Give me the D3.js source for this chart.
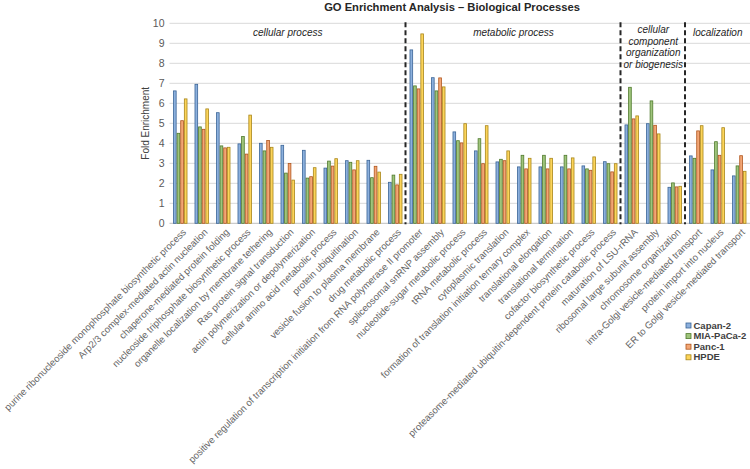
<!DOCTYPE html>
<html><head><meta charset="utf-8">
<script src="https://cdn.jsdelivr.net/npm/d3@7/dist/d3.min.js"></script>
<style>body{margin:0;background:#fff}svg{display:block}</style>
</head><body><svg id="c" width="750" height="469"></svg>
<script>
const categories = [
"purine ribonucleoside monophosphate biosynthetic process",
"Arp2/3 complex-mediated actin nucleation",
"chaperone-mediated protein folding",
"nucleoside triphosphate biosynthetic process",
"organelle localization by membrane tethering",
"Ras protein signal transduction",
"actin polymerization or depolymerization",
"cellular amino acid metabolic process",
"protein ubiquitination",
"vesicle fusion to plasma membrane",
"drug metabolic process",
"positive regulation of transcription initiation from RNA polymerase II promoter",
"spliceosomal snRNP assembly",
"nucleotide-sugar metabolic process",
"tRNA metabolic process",
"cytoplasmic translation",
"formation of translation initiation ternary complex",
"translational elongation",
"translational termination",
"cofactor biosynthetic process",
"proteasome-mediated ubiquitin-dependent protein catabolic process",
"maturation of LSU-rRNA",
"ribosomal large subunit assembly",
"chromosome organization",
"intra-Golgi vesicle-mediated transport",
"protein import into nucleus",
"ER to Golgi vesicle-mediated transport"
];
const seriesNames = ["Capan-2","MIA-PaCa-2","Panc-1","HPDE"];
const capan2 = [6.62,6.95,5.53,3.97,4.0,3.9,3.65,2.76,3.13,3.15,2.05,8.67,7.28,4.57,3.62,3.07,2.82,2.82,2.82,2.87,3.08,4.92,4.98,1.8,3.37,2.67,2.37];
const miaPaCa2 = [4.5,4.82,3.87,4.34,3.62,2.51,2.26,3.11,3.05,2.28,2.41,6.87,6.62,4.13,4.23,3.2,3.4,3.4,3.4,2.72,2.98,6.8,6.12,2.02,3.25,4.08,2.87];
const panc1 = [5.13,4.7,3.77,3.46,4.14,2.99,2.33,2.86,2.67,2.85,1.92,6.72,7.27,4.02,2.98,3.13,2.72,2.72,2.72,2.65,2.57,5.22,4.9,1.82,4.62,3.4,3.38];
const hpde = [6.22,5.72,3.8,5.41,3.8,2.16,2.78,3.23,3.13,2.56,2.45,9.47,6.82,4.98,4.88,3.62,3.25,3.25,3.27,3.32,2.98,5.37,4.47,1.85,4.88,4.78,2.6];
const yTicks = [0,1,2,3,4,5,6,7,8,9,10];
const sectionNames = [["cellular process"],["metabolic process"],["cellular","component","organization","or biogenesis"],["localization"]];
const sectionBreaks = [11,21,24];
const sectionStarts = [0,11,21,24];
const sectionEnds = [11,21,24,27];

const fills = ["#8cb0dd","#9fc47c","#f2a675","#fcd45a"];
const strokes = ["#3b6597","#4f7a2c","#b0551c","#a8861a"];

const series = [capan2, miaPaCa2, panc1, hpde];
const svg = d3.select("#c");
const L = 169.5, R = 750, T = 23.3, B = 223.3;
const FF = "Liberation Sans, Arial, sans-serif";

const x0 = d3.scaleBand().domain(categories).range([L,R]).paddingInner(0.32).paddingOuter(0.16);
const x1 = d3.scaleBand().domain(seriesNames).range([0,x0.bandwidth()]).padding(0.04);
const y = d3.scaleLinear().domain([0,10]).range([B,T]);

svg.append("g").selectAll("line").data(yTicks).join("line")
  .attr("x1",L).attr("x2",R).attr("y1",d=>y(d)).attr("y2",d=>y(d))
  .attr("stroke",d=>d===0?"#bfbfbf":"#d9d9d9").attr("stroke-width",1);

const yAxis = d3.axisLeft(y).tickValues(yTicks).tickSize(0).tickPadding(0);
const ya = svg.append("g").attr("transform",`translate(${L-5},0)`).call(yAxis);
ya.select(".domain").remove();
ya.selectAll("text").attr("font-family",FF).attr("font-size",10.5).attr("fill","#595959");

svg.append("text").attr("transform",`translate(149,${(T+B)/2}) rotate(-90)`)
  .attr("text-anchor","middle").attr("font-family",FF)
  .attr("font-size",10).attr("fill","#404040").text("Fold Enrichment");

const step = x0.step();
const rows = categories.map((c,i)=>({c, vals: series.map((s,j)=>({k:seriesNames[j], v:s[i], j}))}));
const gg = svg.append("g").selectAll("g").data(rows).join("g").attr("transform",d=>`translate(${x0(d.c)},0)`);
gg.selectAll("rect").data(d=>d.vals).join("rect")
  .attr("x",d=>x1(d.k)+0.4).attr("width",x1.bandwidth()-0.8)
  .attr("y",d=>y(d.v)).attr("height",d=>y(0)-y(d.v))
  .attr("fill",d=>fills[d.j]).attr("stroke",d=>strokes[d.j]).attr("stroke-width",0.8);

svg.append("g").selectAll("line").data(sectionBreaks).join("line")
  .attr("x1",d=>x0(categories[d])-step*x0.paddingInner()/2 - 0.5)
  .attr("x2",d=>x0(categories[d])-step*x0.paddingInner()/2 - 0.5)
  .attr("y1",T-1).attr("y2",B+1)
  .attr("stroke","#262626").attr("stroke-width",2).attr("stroke-dasharray","5,3");

sectionNames.forEach((lines,i)=>{
  const a = x0(categories[sectionStarts[i]]) - step*0.16;
  const b = x0(categories[sectionEnds[i]-1]) + x0.bandwidth() + step*0.16;
  const cx = (a+b)/2;
  const t = svg.append("text").attr("text-anchor","middle")
    .attr("font-family",FF).attr("font-style","italic")
    .attr("font-size",10).attr("fill","#262626");
  lines.forEach((ln,k)=>{
    t.append("tspan").attr("x",cx).attr("y",36 + k*11.5 - (lines.length>1?3:0)).text(ln);
  });
});

svg.append("g").selectAll("text").data(categories).join("text")
  .attr("transform",d=>`translate(${x0(d)+x0.bandwidth()/2+6.5},${B+9.5}) rotate(-45)`)
  .attr("text-anchor","end").attr("font-family",FF)
  .attr("font-size",9.6).attr("fill","#666666").text(d=>d);

svg.append("text").attr("x",452).attr("y",11).attr("text-anchor","middle")
  .attr("font-family",FF).attr("font-weight","bold")
  .attr("font-size",11.2).attr("fill","#262626").text("GO Enrichment Analysis \u2013 Biological Processes");

const lg = svg.append("g").attr("transform","translate(686,323)");
seriesNames.forEach((n,i)=>{
  lg.append("rect").attr("x",0).attr("y",i*10.6).attr("width",5).attr("height",5)
    .attr("fill",fills[i]).attr("stroke",strokes[i]).attr("stroke-width",0.8);
  lg.append("text").attr("x",7.5).attr("y",i*10.6+5.5).attr("font-family",FF)
    .attr("font-weight","bold").attr("font-size",9.5).attr("fill","#404040").text(n);
});
</script></body></html>
